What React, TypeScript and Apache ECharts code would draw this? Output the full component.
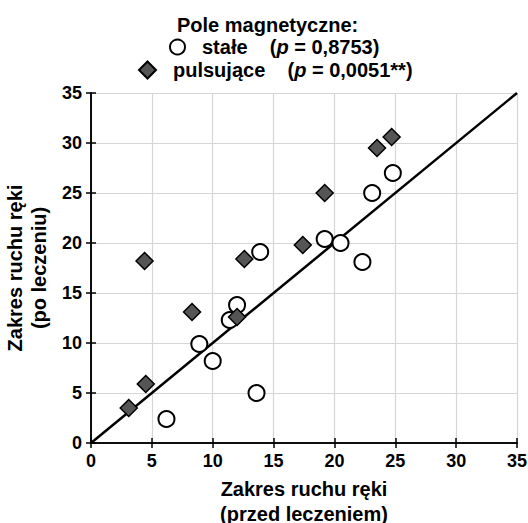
import React, { useEffect, useRef } from "react";
import * as echarts from "echarts";

const FONT = "'Liberation Sans', Arial, sans-serif";

const seriesNames = ["stałe", "pulsujące"];
const pValues = ["0,8753", "0,0051**"];

// stałe (static field): [before, after]
const staleData: number[][] = [
  [6.2, 2.4],
  [8.9, 9.9],
  [10.0, 8.2],
  [11.4, 12.3],
  [12.0, 13.8],
  [13.6, 5.0],
  [13.9, 19.1],
  [19.2, 20.4],
  [20.5, 20.0],
  [22.3, 18.1],
  [23.1, 25.0],
  [24.8, 27.0],
];

// pulsujące (pulsed field): [before, after]
const pulsData: number[][] = [
  [3.1, 3.5],
  [4.5, 5.9],
  [4.4, 18.2],
  [8.3, 13.1],
  [12.0, 12.6],
  [12.6, 18.4],
  [17.4, 19.8],
  [19.2, 25.0],
  [23.5, 29.5],
  [24.7, 30.6],
];

const identityLine: number[][] = [
  [0, 0],
  [35, 35],
];

const axisMin = 0;
const axisMax = 35;
const axisInterval = 5;

export default function App() {
  const ref = useRef<HTMLDivElement>(null);

  useEffect(() => {
    if (!ref.current) return;
    const chart = echarts.init(ref.current, undefined, { renderer: "svg" });

    const baseAxis = {
      min: axisMin,
      max: axisMax,
      interval: axisInterval,
      axisLine: { show: true, lineStyle: { color: "#000", width: 1.5 } },
      axisTick: { show: true, inside: true, length: 5, lineStyle: { color: "#000", width: 1.5 } },
    };

    const legendText = {
      fontFamily: FONT,
      fontSize: 20,
      fontWeight: "bold" as const,
      color: "#000",
      lineHeight: 20,
      rich: {
        n: { fontFamily: FONT, fontSize: 20, fontWeight: "bold" as const, color: "#000", padding: [0, 0, 0, 12] },
        t: { fontFamily: FONT, fontSize: 20, fontWeight: "bold" as const, color: "#000" },
        i: { fontFamily: FONT, fontSize: 20, fontWeight: "bold" as const, fontStyle: "italic" as const, color: "#000" },
      },
    };

    const fmt = (name: string) => {
      const idx = seriesNames.indexOf(name);
      return `{n|${name}}{t|    (}{i|p}{t| = ${pValues[idx]})}`;
    };

    chart.setOption({
      animation: false,
      backgroundColor: "#fff",
      textStyle: { fontFamily: FONT },
      title: {
        text: "Pole magnetyczne:",
        left: 177,
        top: 15,
        padding: 0,
        textStyle: { fontFamily: FONT, fontSize: 20, fontWeight: "bold", color: "#000" },
      },
      legend: [
        {
          data: [seriesNames[0]],
          left: 169,
          top: 37,
          padding: 0,
          itemWidth: 15,
          itemHeight: 15,
          formatter: fmt,
          textStyle: legendText,
          selectedMode: false,
        },
        {
          data: [seriesNames[1]],
          left: 138,
          top: 60,
          padding: 0,
          itemWidth: 17,
          itemHeight: 17,
          formatter: fmt,
          textStyle: legendText,
          selectedMode: false,
        },
      ],
      grid: { left: 91, right: 11, top: 93, bottom: 80, containLabel: false, outerBoundsMode: "none" },
      xAxis: [
        {
          ...baseAxis,
          type: "value",
          position: "bottom",
          name: "Zakres ruchu ręki\n(przed leczeniem)",
          nameLocation: "middle",
          nameGap: 33,
          nameTextStyle: { fontFamily: FONT, fontSize: 20, fontWeight: "bold", color: "#000", lineHeight: 25 },
          axisLabel: { fontFamily: FONT, fontSize: 18, fontWeight: "bold", color: "#000", margin: 9 },
          splitLine: { show: true, lineStyle: { color: "#d6d6d6", width: 1.2 } },
        },
        {
          ...baseAxis,
          type: "value",
          position: "top",
          axisLabel: { show: false },
          splitLine: { show: false },
        },
      ],
      yAxis: [
        {
          ...baseAxis,
          type: "value",
          position: "left",
          name: "Zakres ruchu ręki\n(po leczeniu)",
          nameLocation: "middle",
          nameGap: 31,
          nameRotate: 90,
          nameTextStyle: { fontFamily: FONT, fontSize: 20, fontWeight: "bold", color: "#000", lineHeight: 24 },
          axisLabel: { fontFamily: FONT, fontSize: 18, fontWeight: "bold", color: "#000", margin: 9 },
          splitLine: { show: true, lineStyle: { color: "#d6d6d6", width: 1.2 } },
        },
        {
          ...baseAxis,
          type: "value",
          position: "right",
          axisLabel: { show: false },
          splitLine: { show: false },
        },
      ],
      series: [
        {
          name: "line",
          type: "line",
          data: identityLine,
          symbol: "none",
          silent: true,
          lineStyle: { color: "#000", width: 2.5 },
          z: 1,
        },
        {
          name: seriesNames[0],
          type: "scatter",
          data: staleData,
          symbol: "circle",
          symbolSize: 16,
          itemStyle: { color: "#fff", borderColor: "#000", borderWidth: 2, opacity: 1 },
          z: 2,
        },
        {
          name: seriesNames[1],
          type: "scatter",
          data: pulsData,
          symbol: "diamond",
          symbolSize: 17,
          itemStyle: { color: "#555555", borderColor: "#000", borderWidth: 1.5, opacity: 1 },
          z: 3,
        },
      ],
    });

    return () => chart.dispose();
  }, []);

  return (
    <div
      ref={ref}
      style={{ position: "fixed", left: 0, top: 0, width: 528, height: 523, background: "#fff" }}
    />
  );
}
